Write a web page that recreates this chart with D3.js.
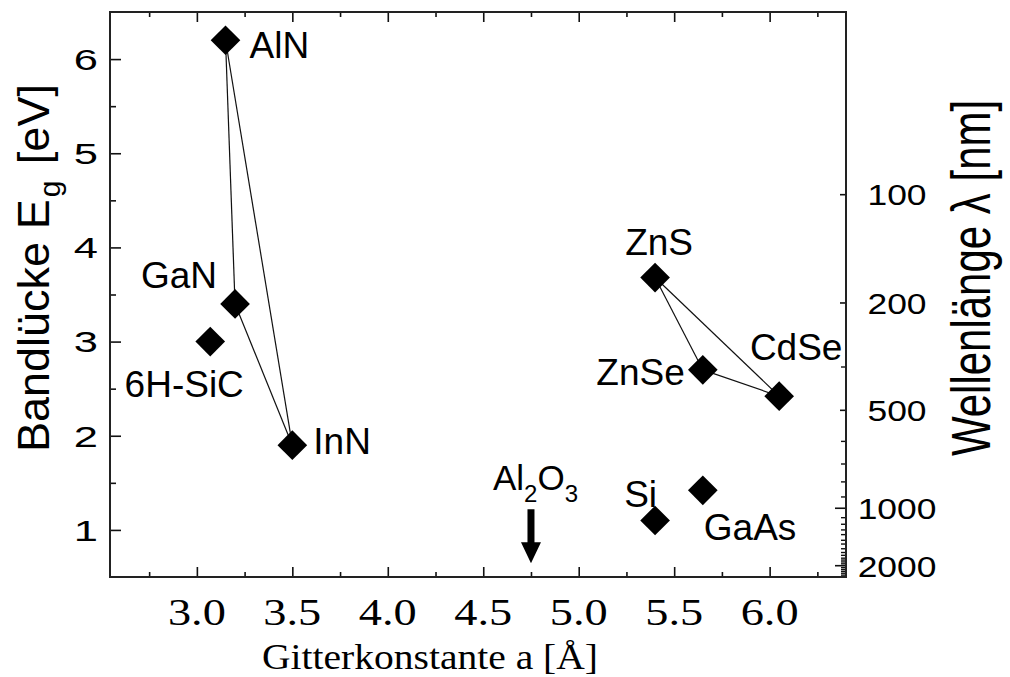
<!DOCTYPE html>
<html>
<head>
<meta charset="utf-8">
<script src="https://cdn.jsdelivr.net/npm/d3@7"></script>
<style>
  html, body { margin: 0; padding: 0; background: #fff; }
  svg { display: block; }
  text { fill: #000; }
</style>
</head>
<body>
<svg id="chart" width="1010" height="677"></svg>
<script>
// Semiconductor materials: lattice constant a [Å] and band gap Eg [eV]
const materials = ["AlN", "GaN", "6H-SiC", "InN", "ZnS", "ZnSe", "CdSe", "Si", "GaAs"];
const latticeA  = [3.15, 3.20, 3.07, 3.50, 5.40, 5.65, 6.05, 5.40, 5.65];
const bandGap   = [6.20, 3.40, 3.00, 1.90, 3.68, 2.70, 2.42, 1.10, 1.42];

// Alloy systems drawn as triangles between their binary compounds
const alloyLinks = [
  ["AlN", "GaN"], ["AlN", "InN"], ["GaN", "InN"],
  ["ZnS", "ZnSe"], ["ZnS", "CdSe"], ["ZnSe", "CdSe"]
];

// Sapphire substrate marker: lattice constant and arrow extent in eV
const substrateA = 4.75;
const substrateArrow = [1.22, 0.645];

// Axis ticks
const xMajorTicks = [3.0, 3.5, 4.0, 4.5, 5.0, 5.5, 6.0];
const xMinorTicks = [2.75, 3.25, 3.75, 4.25, 4.75, 5.25, 5.75, 6.25];
const yMajorTicks = [1, 2, 3, 4, 5, 6];
const yMinorTicks = [1.5, 2.5, 3.5, 4.5, 5.5];

// Wavelength axis: labelled wavelengths and the band-gap height each sits at
const lambdaLabels    = [100, 200, 500, 1000, 2000];
const lambdaLabelAtEg = [4.56, 3.41, 2.27, 1.23, 0.62];
const lambdaMinorAtEg = [2.73, 1.94, 1.70, 1.51, 1.35, 1.13, 1.06, 1.00, 0.95, 0.89,
                         0.85, 0.80, 0.76, 0.73, 0.70, 0.68, 0.66, 0.64, 0.60, 0.58,
                         0.56, 0.54, 0.52];

const svg = d3.select("#chart");
const plot = { left: 110, right: 846, top: 12, bottom: 577 };

const x = d3.scaleLinear().domain([2.545, 6.4]).range([plot.left, plot.right]);
const y = d3.scaleLinear().domain([0.5, 6.5]).range([plot.bottom, plot.top]);

const sans = "'Liberation Sans', Arial, sans-serif";
const serif = "'Liberation Serif', 'Times New Roman', serif";

// Text that is widened horizontally around its anchor point
function wideText(parent, px, py, sx, str, opts) {
  const g = parent.append("g").attr("transform", `translate(${px},${py}) scale(${sx},1)`);
  return g.append("text")
    .attr("x", 0).attr("y", 0)
    .attr("dy", opts.dy || 0)
    .attr("text-anchor", opts.anchor || "start")
    .attr("font-family", opts.family || sans)
    .attr("font-size", opts.size)
    .text(str);
}

// ---- axes -------------------------------------------------------------
function styleAxis(g) {
  g.select(".domain").remove();
  g.selectAll(".tick line").attr("stroke", "#111").attr("stroke-width", 1.6);
  g.selectAll(".tick text").remove();
}

// bottom and top: major + minor ticks pointing inward
[[plot.bottom, d3.axisBottom], [plot.top, d3.axisTop]].forEach(([pos, axisFn]) => {
  svg.append("g").attr("transform", `translate(0,${pos})`)
    .call(axisFn(x).tickValues(xMajorTicks).tickSize(-10)).call(styleAxis);
  svg.append("g").attr("transform", `translate(0,${pos})`)
    .call(axisFn(x).tickValues(xMinorTicks).tickSize(-5)).call(styleAxis);
});
const xLabels = svg.append("g");
xMajorTicks.forEach(t =>
  wideText(xLabels, x(t), 625, 1.22, d3.format(".1f")(t),
           { anchor: "middle", family: serif, size: 38 }));

// left: band gap
svg.append("g").attr("transform", `translate(${plot.left},0)`)
  .call(d3.axisLeft(y).tickValues(yMajorTicks).tickSize(-11)).call(styleAxis);
svg.append("g").attr("transform", `translate(${plot.left},0)`)
  .call(d3.axisLeft(y).tickValues(yMinorTicks).tickSize(-6)).call(styleAxis);
const yLabels = svg.append("g");
yMajorTicks.forEach(t =>
  wideText(yLabels, 98, y(t), 1.45, String(t), { anchor: "end", size: 30, dy: "0.36em" }));

// right: wavelength
const rightAxis = svg.append("g").attr("transform", `translate(${plot.right},0)`);
rightAxis.selectAll("line.minor").data(lambdaMinorAtEg).join("line")
  .attr("class", "minor")
  .attr("x1", 0).attr("x2", -5)
  .attr("y1", d => y(d)).attr("y2", d => y(d))
  .attr("stroke", "#111").attr("stroke-width", 1.4);
rightAxis.selectAll("line.major").data(lambdaLabels).join("line")
  .attr("class", "major")
  .attr("x1", 0).attr("x2", d => d >= 1000 ? -11 : -6)
  .attr("y1", (d, i) => y(lambdaLabelAtEg[i])).attr("y2", (d, i) => y(lambdaLabelAtEg[i]))
  .attr("stroke", "#111").attr("stroke-width", 1.6);
const rLabels = svg.append("g");
lambdaLabels.forEach((d, i) =>
  wideText(rLabels, 897, y(lambdaLabelAtEg[i]), 1.18, String(d),
           { anchor: "middle", size: 30, dy: "0.36em" }));

// frame
svg.append("rect")
  .attr("x", plot.left).attr("y", plot.top)
  .attr("width", plot.right - plot.left).attr("height", plot.bottom - plot.top)
  .attr("fill", "none").attr("stroke", "#222").attr("stroke-width", 2);

// ---- axis titles ------------------------------------------------------
wideText(svg, 430, 669, 1.13, "Gitterkonstante a [Å]",
         { anchor: "middle", family: serif, size: 35 });

const leftTitle = svg.append("text")
  .attr("transform", "translate(49,452) rotate(-90)")
  .attr("text-anchor", "start")
  .attr("font-family", sans).attr("font-size", 45);
leftTitle.append("tspan").text("Bandlücke E");
leftTitle.append("tspan").attr("font-size", 30).attr("dx", 2).attr("dy", 11).text("g");
leftTitle.append("tspan").attr("dx", 4).attr("dy", -11).text(" [eV]");

svg.append("g")
  .attr("transform", "translate(990,278) scale(1.3,1)")
  .append("text")
  .attr("transform", "rotate(-90)")
  .attr("text-anchor", "middle")
  .attr("font-family", sans).attr("font-size", 42)
  .text("Wellenlänge λ [nm]");

// ---- alloy lines --------------------------------------------------------
const idx = name => materials.indexOf(name);
svg.append("g").selectAll("line").data(alloyLinks).join("line")
  .attr("x1", d => x(latticeA[idx(d[0])])).attr("y1", d => y(bandGap[idx(d[0])]))
  .attr("x2", d => x(latticeA[idx(d[1])])).attr("y2", d => y(bandGap[idx(d[1])]))
  .attr("stroke", "#111").attr("stroke-width", 1.2);

// ---- diamond markers ----------------------------------------------------
const diamond = d3.symbol().type(d3.symbolSquare).size(440);
svg.append("g").selectAll("path").data(materials).join("path")
  .attr("d", diamond)
  .attr("transform", (d, i) => `translate(${x(latticeA[i])},${y(bandGap[i])}) rotate(45)`)
  .attr("fill", "#000");

// ---- material labels ----------------------------------------------------
const labelLayout = {
  "AlN":    { dx: 24,  dy: 18,  anchor: "start" },
  "GaN":    { dx: -18, dy: -16, anchor: "end" },
  "6H-SiC": { dx: -26, dy: 55,  anchor: "middle" },
  "InN":    { dx: 21,  dy: 9,   anchor: "start" },
  "ZnS":    { dx: 4,   dy: -23, anchor: "middle" },
  "ZnSe":   { dx: -18, dy: 15,  anchor: "end" },
  "CdSe":   { dx: 17,  dy: -36, anchor: "middle" },
  "Si":     { dx: 2,   dy: -14, anchor: "end" },
  "GaAs":   { dx: 1,   dy: 50,  anchor: "start" }
};
svg.append("g").selectAll("text").data(materials).join("text")
  .attr("x", (d, i) => x(latticeA[i]) + labelLayout[d].dx)
  .attr("y", (d, i) => y(bandGap[i]) + labelLayout[d].dy)
  .attr("text-anchor", d => labelLayout[d].anchor)
  .attr("font-family", sans).attr("font-size", 37)
  .text(d => d);

// ---- substrate arrow ----------------------------------------------------
const ax = x(substrateA);
const yTop = y(substrateArrow[0]);
const yTip = y(substrateArrow[1]);
const headH = 21, headW = 10, shaftW = 3.5;
svg.append("path")
  .attr("d", `M${ax - shaftW},${yTop} L${ax + shaftW},${yTop} L${ax + shaftW},${yTip - headH}
              L${ax + headW},${yTip - headH} L${ax},${yTip} L${ax - headW},${yTip - headH}
              L${ax - shaftW},${yTip - headH} Z`)
  .attr("fill", "#000");

const subLabel = svg.append("text")
  .attr("x", ax - 38).attr("y", 490)
  .attr("font-family", sans).attr("font-size", 35);
subLabel.append("tspan").text("Al");
subLabel.append("tspan").attr("font-size", 24).attr("dy", 12).text("2");
subLabel.append("tspan").attr("dy", -12).text("O");
subLabel.append("tspan").attr("font-size", 24).attr("dy", 12).text("3");
</script>
</body>
</html>
